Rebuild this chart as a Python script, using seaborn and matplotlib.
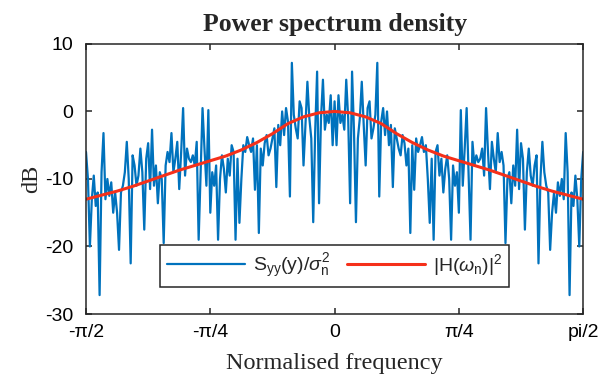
import numpy as np
import pandas as pd
import matplotlib
matplotlib.use('Agg')
import matplotlib.pyplot as plt
import seaborn as sns

# The spectrum is symmetric about 0, so the left half is the mirror image.
psd_right = [
    1.5, -5.0, 2.4, -1.7, -0.5, -2.7, 4.7, -1.0, -13.6, 5.9,
    -3.0, -16.4, -4.0, -1.0, 4.4, -2.0, -8.0, 0.5, 1.5, -4.0,
    -2.5, -0.5, 7.2, -12.6, -1.5, 0.5, -3.5, 0.0, -5.0, -2.0,
    -11.2, -2.5, -4.0, -5.5, -6.5, -3.5, -4.7, -8.0, -5.5, -18.0,
    -5.0, -11.6, -4.0, -6.0, -5.0, -3.8, -6.0, -5.0, -10.0, -16.5,
    -7.0, -19.0, -6.0, -5.0, -9.5, -7.0, -12.0, -8.5, -6.5, -10.0,
    -19.0, -8.0, -11.0, -9.0, -15.0, 0.2, -11.0, -5.5, 0.5, -9.0,
    -19.0, -4.5, -8.0, -6.5, -7.5, -7.0, -5.5, -9.5, 0.5, -6.0,
    -11.5, -4.5, -7.0, -9.0, -3.2, -7.5, -6.0, -8.0, -19.5, -10.0,
    -9.0, -13.6, -8.0, -11.0, -2.7, -11.5, -4.7, -7.0, -17.5, -9.0,
    -5.5, -9.5, -11.0, -8.0, -6.5, -22.5, -10.0, -4.5, -9.0, -11.0,
    -12.0, -20.5, -15.0, -12.0, -15.0, -10.5, -12.5, -10.0, -13.0, -3.2,
    -9.0, -27.2, -12.0, -14.0, -9.5, -13.0, -20.0, -10.0, -6.0,
]

# Filter response |H|^2 in dB, every 8th bin from 0 to pi/2
h_right = [0.0, -0.2, -0.8, -1.8, -3.3, -4.6, -5.7, -6.6, -7.3,
           -8.0, -8.7, -9.5, -10.3, -11.1, -11.8, -12.4, -13.0]

xtick_labels = ['-\u03c0/2', '-\u03c0/4', '0', '\u03c0/4', 'pi/2']
ytick_values = [-30, -20, -10, 0, 10]

psd = psd_right[:0:-1] + psd_right
h2 = h_right[:0:-1] + h_right

df_psd = pd.DataFrame({'freq': np.linspace(-np.pi / 2, np.pi / 2, len(psd)), 'db': psd})
df_h = pd.DataFrame({'freq': np.linspace(-np.pi / 2, np.pi / 2, len(h2)), 'db': h2})

sns.set_style('ticks')
plt.rcParams['font.family'] = ['Liberation Sans', 'DejaVu Sans']
plt.rcParams['mathtext.fontset'] = 'custom'
plt.rcParams['mathtext.rm'] = 'Liberation Sans'
plt.rcParams['mathtext.it'] = 'Liberation Sans:italic'
plt.rcParams['axes.unicode_minus'] = False
plt.rcParams['axes.edgecolor'] = '#262626'
plt.rcParams['axes.linewidth'] = 1.1

fig = plt.figure(figsize=(6.1, 3.82), dpi=100)
ax = fig.add_axes([0.141, 0.178, 0.815, 0.707])

sns.lineplot(data=df_psd, x='freq', y='db', color='#0072BD', lw=1.6, ax=ax,
             label=r'S$_{\rm yy}$(y)/$\sigma_{\rm n}^2$')
sns.lineplot(data=df_h, x='freq', y='db', color='#F5301A', lw=2.2, ax=ax,
             label=r'|H($\omega_{\rm n}$)|$^2$')

ax.set_xlim(-np.pi / 2, np.pi / 2)
ax.set_ylim(-30, 10)
ax.set_xticks(np.linspace(-np.pi / 2, np.pi / 2, 5))
ax.set_xticklabels(xtick_labels)
ax.set_yticks(ytick_values)
ax.tick_params(direction='in', length=4, width=1.1, top=True, right=True,
               labelsize=14, colors='#262626', labelcolor='black')
ax.tick_params(axis='y', pad=9)
ax.tick_params(axis='x', pad=7)

serif = ['Liberation Serif', 'DejaVu Serif']
ax.set_title('Power spectrum density', family=serif, fontweight='bold',
             fontsize=18.5, pad=9)
ax.set_xlabel('Normalised frequency', family=serif, fontsize=17.5, labelpad=9)
ax.set_ylabel('dB', family=serif, fontsize=17.5, labelpad=2)

leg = ax.legend(loc='lower center', bbox_to_anchor=(0.5, 0.1), borderaxespad=0,
                ncol=2, frameon=True, fancybox=False, edgecolor='#262626',
                framealpha=1, fontsize=14, handlelength=4.0,
                columnspacing=0.9, handletextpad=0.4, borderpad=0.35)
leg.get_frame().set_linewidth(1.1)

fig.savefig('out.png', dpi=100)
